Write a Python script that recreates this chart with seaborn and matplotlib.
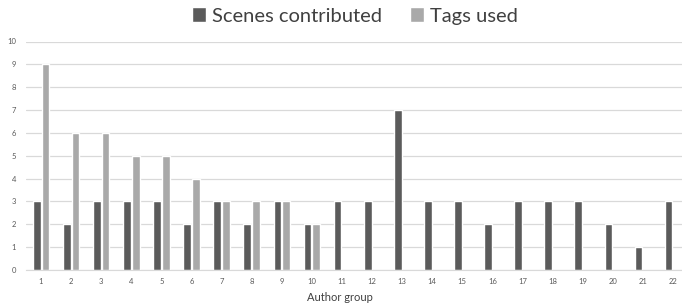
import numpy as np
import pandas as pd
import matplotlib
matplotlib.use("Agg")
import matplotlib.pyplot as plt
import seaborn as sns

groups = [str(i) for i in range(1, 23)]
scenes = [3, 2, 3, 3, 3, 2, 3, 2, 3, 2, 3, 3, 7, 3, 3, 2, 3, 3, 3, 2, 1, 3]
tags = [9, 6, 6, 5, 5, 4, 3, 3, 3, 2] + [np.nan] * 12
series = ["Scenes contributed", "Tags used"]

df = pd.DataFrame({
    "group": groups * 2,
    "value": scenes + tags,
    "series": [series[0]] * len(groups) + [series[1]] * len(groups),
})

sns.set_style("white")
plt.rcParams["font.family"] = ["Lato", "DejaVu Sans"]

fig = plt.figure(figsize=(6.82, 3.04), dpi=100)
# plot area runs a bit past the right edge, like the original screenshot
ax = fig.add_axes([26 / 682, 34 / 304, 662 / 682, 228.5 / 304])

sns.barplot(data=df, x="group", y="value", hue="series", order=groups,
            hue_order=series, palette=["#5b5b5b", "#a9a9a9"],
            width=0.58, gap=0.12, saturation=1, ax=ax)

ax.set_ylim(0, 10)
ax.set_xlim(-0.5, 21.5)
ax.set_yticks(range(0, 11))
ax.yaxis.grid(True, color="#d9d9d9", linewidth=0.9)
ax.set_axisbelow(True)
for s in ["top", "right", "left"]:
    ax.spines[s].set_visible(False)
ax.spines["bottom"].set_color("#d9d9d9")
ax.tick_params(axis="both", length=0, labelsize=5.5, labelcolor="#595959")
ax.tick_params(axis="x", pad=6)
ax.tick_params(axis="y", pad=7)
ax.set_ylabel("")
ax.set_xlabel("Author group", fontsize=8, color="#404040", labelpad=4)
ax.xaxis.set_label_coords((340 - 26) / 662, -0.095)

handles, labels = ax.get_legend_handles_labels()
ax.get_legend().remove()
fig.legend(handles, labels, loc="center", bbox_to_anchor=(355 / 682, 1 - 16 / 304),
           ncol=2, frameon=False, fontsize=14.5, handlelength=0.7, handleheight=0.7,
           handletextpad=0.3, columnspacing=1.4, labelcolor="#404040")

fig.savefig("out.png", dpi=100)
